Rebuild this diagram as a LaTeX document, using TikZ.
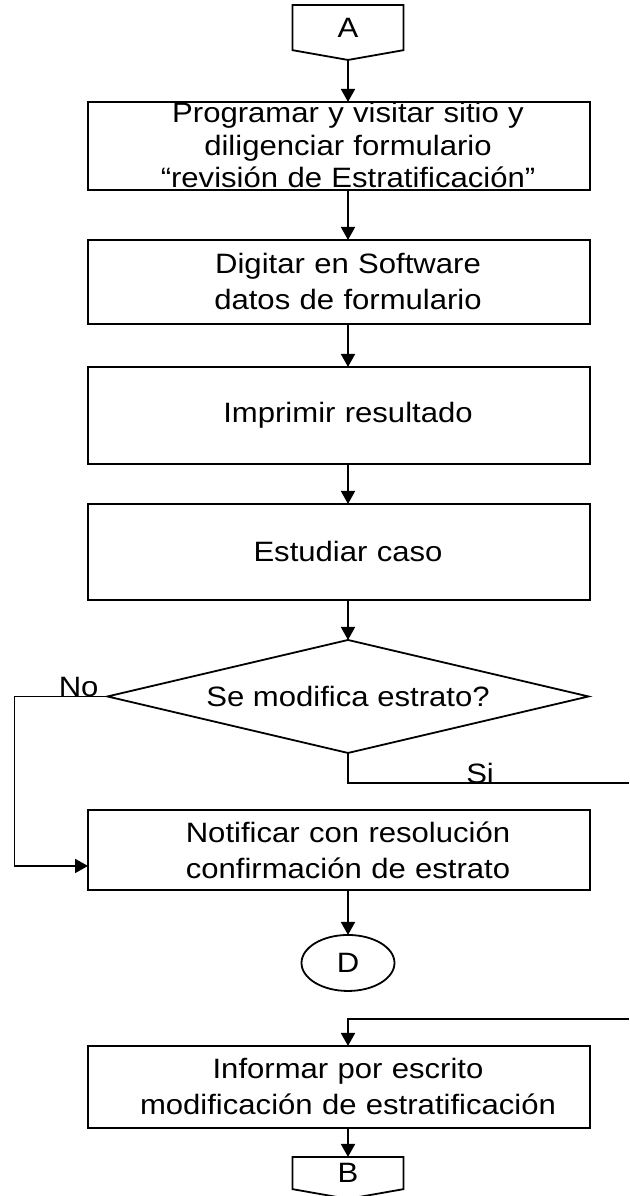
\documentclass[tikz,border=0pt]{standalone}
\usepackage{fontspec}
\setmainfont{Liberation Sans}[FakeStretch=1.11]
\usepackage{tikz}
\usetikzlibrary{
  arrows.meta,
  positioning,
  shapes.geometric,
  shapes.symbols
}
\tikzset{
  flow/.style={ font=\fontsize{28}{36}\selectfont, line width=1.8pt },
  procbox/.style={
    draw,
    outer sep=0pt,
    minimum width=502pt,
    minimum height=#1,
    text width=490pt,
    inner xsep=6pt,
    align=center,
    execute at begin node={%
      \leftskip=18pt plus 1fil\rightskip=0pt plus 1fil\parfillskip=0pt\relax}
  },
  decbox/.style={
    draw,
    diamond,
    outer sep=0pt,
    shape aspect=4.26,
    minimum width=481pt,
    minimum height=113pt,
    inner sep=0pt
  },
  offpage/.style={
    draw,
    signal,
    signal to=south,
    signal pointer angle=160,
    outer sep=0pt,
    minimum width=111pt,
    minimum height=#1,
    inner sep=0pt
  },
  onpage/.style={
    draw,
    ellipse,
    outer sep=0pt,
    minimum width=93pt,
    minimum height=56pt,
    inner sep=0pt
  },
  arrow/.style={ -{Triangle[length=13pt,width=14pt]} },
  lbl/.style={ anchor=base, inner sep=0pt }
}

\begin{document}
\begin{tikzpicture}[flow, x=1pt, y=-1pt]
  \useasboundingbox (0,0) rectangle (629,1196);

  \node[offpage=47pt, anchor=north] (conA) at (348,5) {A};
  \node[procbox=88pt, below=42pt of conA, xshift=-9pt,
        font=\fontsize{28}{32.5}\selectfont,
        text height=21pt, text depth=67pt, inner ysep=0pt] (prog) {
    Programar y visitar sitio y\\
    diligenciar formulario\\
    “revisión de Estratificación”
  };
  \node[procbox=84pt, below=50pt of prog] (digitar) {
    Digitar en Software\\
    datos de formulario
  };
  \node[procbox=97pt, below=43pt of digitar] (imprimir) {Imprimir resultado};
  \node[procbox=96pt, below=40pt of imprimir] (estudiar) {Estudiar caso};
  \node[decbox, below=40pt of estudiar, xshift=9pt] (decide) {Se modifica estrato?};
  \node[procbox=80pt, below=57pt of decide, xshift=-9pt] (notif) {
    Notificar con resolución\\
    confirmación de estrato
  };
  \node[onpage, below=45pt of notif, xshift=9pt] (conD) {D};
  \node[procbox=82pt, below=55pt of conD, xshift=-9pt] (informar) {
    Informar por escrito\\
    modificación de estratificación
  };
  \node[offpage=34pt, below=29pt of informar, xshift=9pt] (conB) {B};

  \coordinate (siend) at (629,783);
  \coordinate (back) at (629,1019);

  \draw[arrow] (conA.south) -- (prog.north -| conA.south);
  \draw[arrow] (prog.south -| conA.south) -- (digitar.north -| conA.south);
  \draw[arrow] (digitar.south -| conA.south) -- (imprimir.north -| conA.south);
  \draw[arrow] (imprimir.south -| conA.south) -- (estudiar.north -| conA.south);
  \draw[arrow] (estudiar.south -| conA.south) -- (decide.north);
  % no / si
  \draw[arrow] (decide.west) -- node[lbl, pos=0.31] {No} ++(-93pt,0)
    |- ([yshift=-16pt]notif.west);
  \draw (decide.south) |- node[lbl, pos=0.735] {Si} (siend);
  \draw[arrow] (notif.south -| conD.north) -- (conD.north);
  \draw[arrow] (back) -| (informar.north -| conD.south);
  \draw[arrow] (informar.south -| conB.north) -- (conB.north);
\end{tikzpicture}
\end{document}
